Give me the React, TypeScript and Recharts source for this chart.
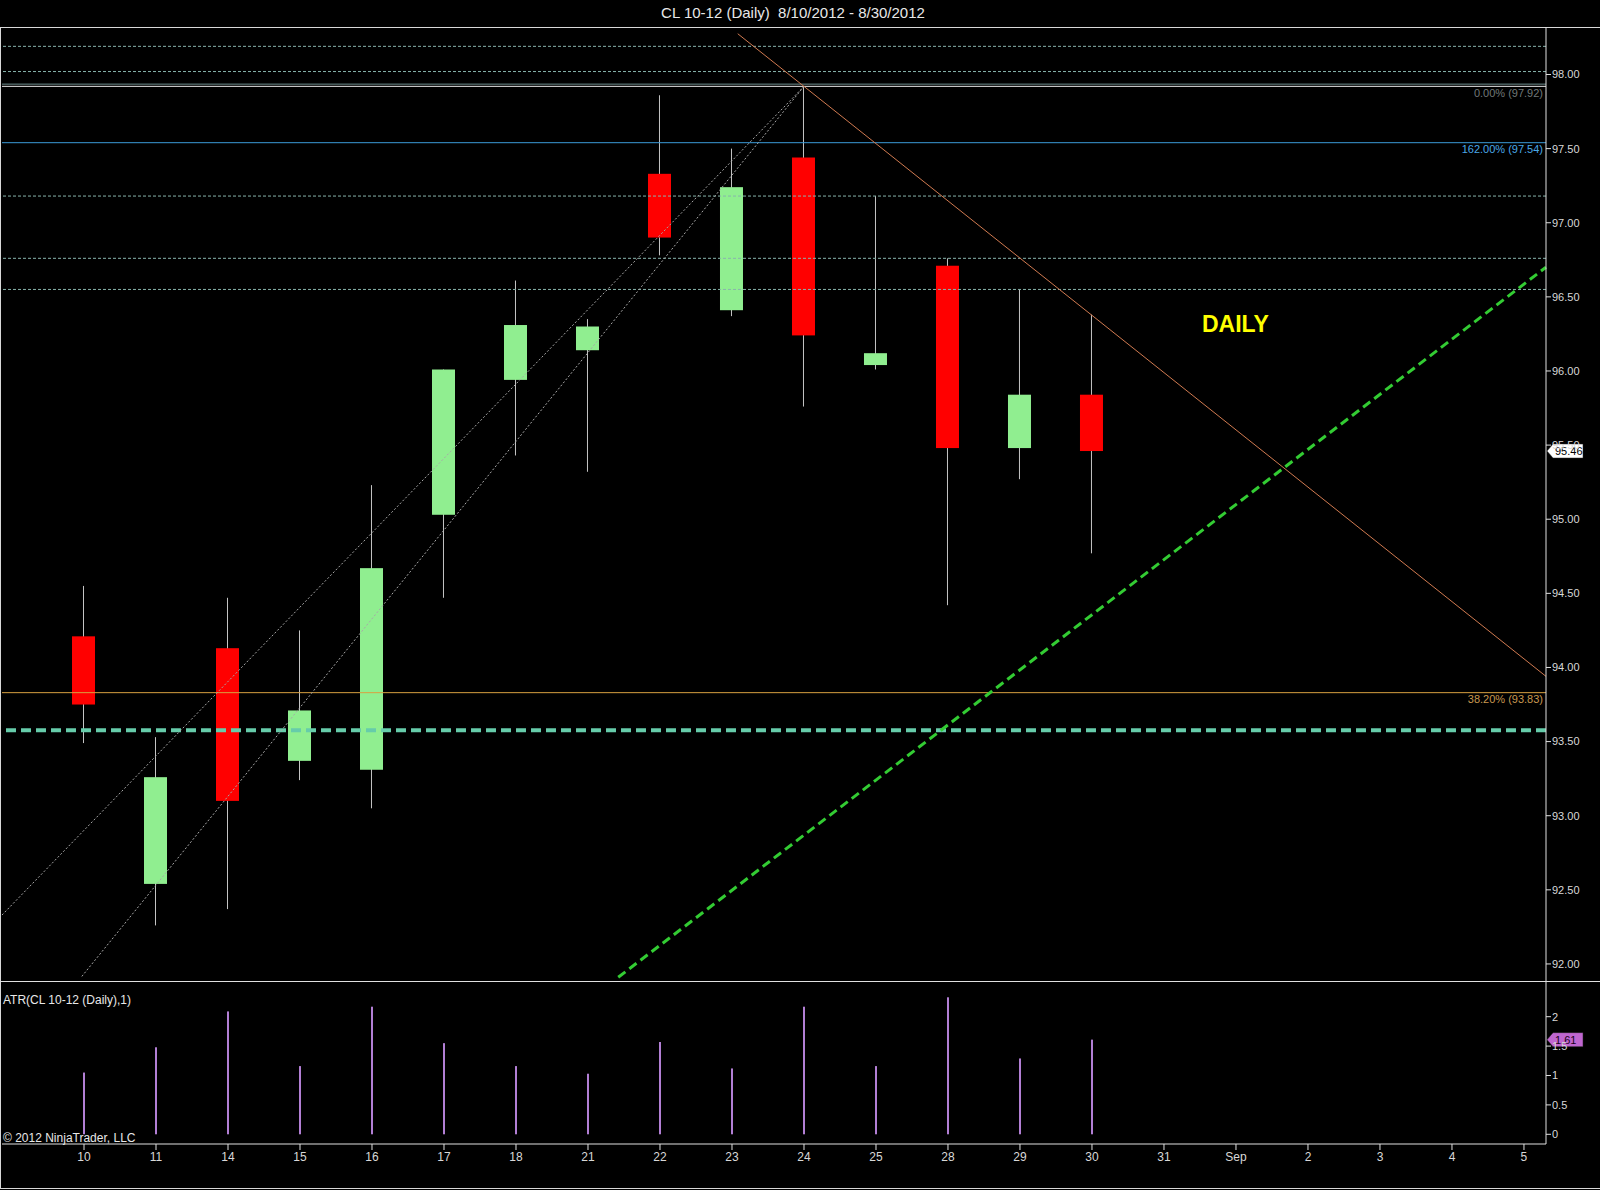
import React from 'react';
import { ComposedChart, Bar, XAxis, YAxis, ReferenceLine } from 'recharts';

// ---- data ----
const dates = ['10', '11', '14', '15', '16', '17', '18', '21', '22', '23', '24', '25', '28', '29', '30'];
const opens = [94.21, 92.54, 94.13, 93.37, 93.31, 95.03, 95.94, 96.14, 97.33, 96.41, 97.44, 96.04, 96.71, 95.48, 95.84];
const highs = [94.55, 93.53, 94.47, 94.25, 95.23, 96.01, 96.61, 96.35, 97.86, 97.5, 97.92, 97.18, 96.76, 96.55, 96.38];
const lows = [93.49, 92.26, 92.37, 93.24, 93.05, 94.47, 95.43, 95.32, 96.78, 96.37, 95.76, 96.01, 94.42, 95.27, 94.77];
const closes = [93.75, 93.26, 93.1, 93.71, 94.67, 96.01, 96.31, 96.3, 96.9, 97.24, 96.24, 96.12, 95.48, 95.84, 95.46];
const atrValues = [1.05, 1.48, 2.09, 1.16, 2.17, 1.55, 1.16, 1.03, 1.57, 1.12, 2.17, 1.16, 2.33, 1.29, 1.61];

const axisLabels = ['10', '11', '14', '15', '16', '17', '18', '21', '22', '23', '24', '25', '28', '29', '30', '31', 'Sep', '2', '3', '4', '5'];
const priceTicks = [92, 92.5, 93, 93.5, 94, 94.5, 95, 95.5, 96, 96.5, 97, 97.5, 98];
const atrTicks = [0, 0.5, 1, 1.5, 2];

const dashedLevels = [98.19, 98.02, 97.18, 96.76, 96.55];
const fibZero = { value: 97.92, label: '0.00% (97.92)' };
const fibZeroShadow = 97.935;
const fib162 = { value: 97.54, label: '162.00% (97.54)' };
const fib382 = { value: 93.83, label: '38.20% (93.83)' };
const supportLevel = 93.576;
const lastPrice = 95.46;
const lastAtr = 1.61;

// trend lines: [index, price] pairs
const resistanceLine = [[9.08, 98.275], [20.306, 93.94]];
const channelA = [[-1.139, 92.33], [10, 97.92]];
const channelB = [[-0.03, 91.916], [10, 97.92]];
const supportTrend = [[7.42, 91.91], [20.306, 96.7]];

const xDomain = [-1.139, 20.306];
const priceDomain = [91.885, 98.3204];
const atrDomain = [-0.165, 2.607];

const candles = dates.map((d, i) => ({
  idx: i,
  date: d,
  open: opens[i],
  high: highs[i],
  low: lows[i],
  close: closes[i],
  range: [lows[i], highs[i]],
  atr: atrValues[i],
}));

const xTicks = axisLabels.map((_, i) => i);

const Candle = (props: any) => {
  const { x, y, width, height, payload } = props;
  if (!payload) return null;
  const h = Math.abs(height);
  const top = height >= 0 ? y : y + height;
  const span = payload.high - payload.low;
  const ppu = span > 0 ? h / span : 0;
  const bodyHi = Math.max(payload.open, payload.close);
  const bodyLo = Math.min(payload.open, payload.close);
  const bTop = top + (payload.high - bodyHi) * ppu;
  const bBot = top + (payload.high - bodyLo) * ppu;
  const cx = x + width / 2;
  const up = payload.close >= payload.open;
  return (
    <g>
      <line x1={cx} x2={cx} y1={top} y2={top + h} stroke="#c4c4c4" strokeWidth={1} />
      <rect x={x} y={bTop} width={width} height={Math.max(bBot - bTop, 1)} fill={up ? '#90ee90' : '#ff0000'} />
    </g>
  );
};

const seg = (pts: number[][]) => [
  { x: pts[0][0], y: pts[0][1] },
  { x: pts[1][0], y: pts[1][1] },
];

const makeTag = (text: string, fill: string, textFill: string) => (props: any) => {
  const vb = props.viewBox || {};
  const x = (vb.x || 0) + (vb.width || 0);
  const y = vb.y || 0;
  return (
    <g>
      <polygon
        points={`${x + 1},${y} ${x + 7},${y - 7} ${x + 37},${y - 7} ${x + 37},${y + 7} ${x + 7},${y + 7}`}
        fill={fill}
        stroke="#222"
        strokeWidth={0.5}
      />
      <text x={x + 9} y={y + 4} fontSize={11} fill={textFill}>
        {text}
      </text>
    </g>
  );
};

const fibLabel = (text: string, color: string) => ({
  value: text,
  position: 'insideTopRight' as const,
  offset: 3,
  fill: color,
  fontSize: 11,
});

export default function App() {
  const font = '"Liberation Sans", Arial, sans-serif';
  return (
    <div
      style={{
        position: 'absolute',
        left: 0,
        top: 0,
        width: 1600,
        height: 1190,
        background: '#000',
        overflow: 'hidden',
        fontFamily: font,
      }}
    >
      <div
        style={{
          position: 'absolute',
          top: 4,
          left: 0,
          width: 1586,
          textAlign: 'center',
          color: '#e8e8e8',
          fontSize: 15,
          lineHeight: '18px',
          whiteSpace: 'pre',
        }}
      >
        {'CL 10-12 (Daily)  8/10/2012 - 8/30/2012'}
      </div>

      {/* frame */}
      <div style={{ position: 'absolute', top: 27, left: 0, width: 1600, height: 1, background: '#d8d8d8' }} />
      <div style={{ position: 'absolute', top: 27, left: 0, width: 1, height: 1162, background: '#d8d8d8' }} />
      <div style={{ position: 'absolute', top: 1188, left: 0, width: 1600, height: 1, background: '#d8d8d8' }} />

      {/* price panel */}
      <div style={{ position: 'absolute', top: 27, left: 0 }}>
        <ComposedChart width={1600} height={954} data={candles} margin={{ top: 0, right: 0, bottom: 0, left: 2 }}>
          <XAxis dataKey="idx" type="number" domain={xDomain} ticks={xTicks} hide allowDataOverflow />
          <YAxis
            orientation="right"
            width={54}
            type="number"
            domain={priceDomain}
            ticks={priceTicks}
            interval={0}
            allowDataOverflow
            axisLine={{ stroke: '#e0e0e0' }}
            tickLine={{ stroke: '#e0e0e0' }}
            tickSize={5}
            tickMargin={1}
            tick={{ fill: '#d8d8d8', fontSize: 11 }}
            tickFormatter={(v: number) => v.toFixed(2)}
          />
          {dashedLevels.map((v, i) => (
            <ReferenceLine key={'d' + i} y={v} stroke="#88b4ac" strokeDasharray="3 2" strokeWidth={1} ifOverflow="visible" />
          ))}
          <ReferenceLine y={fibZeroShadow} stroke="#6f8f8f" strokeWidth={1} ifOverflow="visible" />
          <ReferenceLine y={fibZero.value} stroke="#e8e8e8" strokeWidth={1} ifOverflow="visible" label={fibLabel(fibZero.label, '#707878')} />
          <ReferenceLine y={fib162.value} stroke="#3a9ad8" strokeWidth={1} ifOverflow="visible" label={fibLabel(fib162.label, '#4aa8e8')} />
          <ReferenceLine y={fib382.value} stroke="#d8a040" strokeWidth={1} ifOverflow="visible" label={fibLabel(fib382.label, '#c89850')} />
          <ReferenceLine y={supportLevel} stroke="#66ccaa" strokeWidth={4} strokeDasharray="10 5" ifOverflow="visible" />
          <ReferenceLine segment={seg(channelA)} stroke="#a8a8a8" strokeDasharray="2 2" strokeWidth={1} ifOverflow="visible" />
          <ReferenceLine segment={seg(channelB)} stroke="#a8a8a8" strokeDasharray="2 2" strokeWidth={1} ifOverflow="visible" />
          <ReferenceLine segment={seg(resistanceLine)} stroke="#d07a50" strokeWidth={1} ifOverflow="visible" />
          <ReferenceLine segment={seg(supportTrend)} stroke="#33cc33" strokeWidth={3} strokeDasharray="9 5" ifOverflow="visible" />
          <Bar dataKey="range" barSize={23} shape={Candle} isAnimationActive={false} />
          <ReferenceLine y={lastPrice} stroke="none" ifOverflow="visible" label={makeTag(lastPrice.toFixed(2), '#ffffff', '#000000')} />
        </ComposedChart>
      </div>

      <div
        style={{
          position: 'absolute',
          left: 1202,
          top: 310,
          color: '#ffff00',
          fontSize: 23,
          fontWeight: 'bold',
          lineHeight: '28px',
        }}
      >
        DAILY
      </div>

      {/* separator */}
      <div style={{ position: 'absolute', top: 981, left: 0, width: 1600, height: 1, background: '#e0e0e0' }} />

      {/* ATR panel */}
      <div style={{ position: 'absolute', top: 981, left: 0 }}>
        <ComposedChart width={1600} height={207} data={candles} margin={{ top: 0, right: 0, bottom: 0, left: 2 }}>
          <XAxis
            dataKey="idx"
            type="number"
            domain={xDomain}
            ticks={xTicks}
            interval={0}
            allowDataOverflow
            height={44}
            axisLine={{ stroke: '#e0e0e0' }}
            tickLine={{ stroke: '#e0e0e0' }}
            tickSize={6}
            tick={{ fill: '#d8d8d8', fontSize: 12 }}
            tickFormatter={(v: number) => axisLabels[Math.round(v)] ?? ''}
          />
          <YAxis
            orientation="right"
            width={54}
            type="number"
            domain={atrDomain}
            ticks={atrTicks}
            interval={0}
            allowDataOverflow
            axisLine={{ stroke: '#e0e0e0' }}
            tickLine={{ stroke: '#e0e0e0' }}
            tickSize={5}
            tickMargin={1}
            tick={{ fill: '#d8d8d8', fontSize: 11 }}
            tickFormatter={(v: number) => String(v)}
          />
          <Bar dataKey="atr" barSize={2} fill="#b27fd4" isAnimationActive={false} />
          <ReferenceLine y={lastAtr} stroke="none" ifOverflow="visible" label={makeTag(lastAtr.toFixed(2), '#c066d0', '#1a001a')} />
        </ComposedChart>
      </div>

      <div style={{ position: 'absolute', left: 3, top: 993, color: '#e8e8e8', fontSize: 12, lineHeight: '14px' }}>
        ATR(CL 10-12 (Daily),1)
      </div>
      <div style={{ position: 'absolute', left: 3, top: 1131, color: '#e8e8e8', fontSize: 12, lineHeight: '14px' }}>
        © 2012 NinjaTrader, LLC
      </div>
    </div>
  );
}
